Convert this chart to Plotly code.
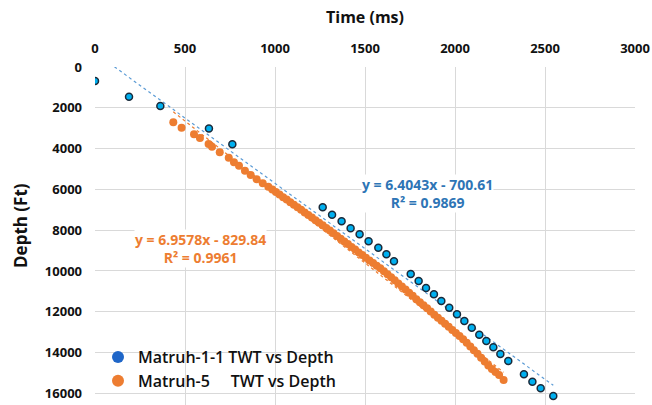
import plotly.graph_objects as go

# Matruh-1-1 (blue) TWT (ms) vs Depth (ft)
m1_time = [0, 189, 363, 633, 763,
           1265, 1317, 1370, 1420, 1470, 1520, 1574, 1619, 1661,
           1754, 1798, 1839, 1883, 1924, 1968, 2011, 2052, 2093, 2135,
           2174, 2213, 2252, 2296, 2383, 2430, 2476, 2546]
m1_depth = [686, 1456, 1912, 3020, 3790,
            6879, 7238, 7565, 7908, 8203, 8545, 8856, 9183, 9526,
            10147, 10490, 10833, 11144, 11471, 11797, 12124, 12451, 12778, 13121,
            13431, 13741, 14069, 14412, 15065, 15425, 15752, 16127]

# Matruh-5 (orange)
m5_time = [435, 481, 550, 583, 631, 650, 693, 743, 772, 800, 833, 865, 898, 932,
           963, 985, 1005, 1025, 1045, 1065, 1085, 1105, 1125, 1145, 1165, 1185,
           1205, 1225, 1245, 1265, 1285, 1305, 1325, 1345, 1365, 1385, 1405, 1425,
           1445, 1465, 1485, 1505, 1525, 1545, 1565, 1585, 1605, 1625, 1645, 1665,
           1685, 1705, 1725, 1745, 1765, 1785, 1805, 1825, 1845, 1865, 1885, 1905,
           1925, 1945, 1965, 1985, 2005, 2025, 2045, 2065, 2085, 2105, 2125, 2145,
           2165, 2185, 2205, 2225, 2245, 2270]
m5_depth = [2712, 2974, 3301, 3480, 3775, 3905, 4183, 4444, 4673, 4837, 5082, 5294, 5506, 5702,
            5866, 6000, 6130, 6250, 6380, 6500, 6630, 6750, 6880, 7000, 7130, 7250,
            7380, 7510, 7630, 7760, 7890, 8020, 8150, 8290, 8420, 8550, 8680, 8820,
            8950, 9090, 9220, 9350, 9480, 9610, 9740, 9870, 10010, 10160, 10310, 10460,
            10610, 10760, 10910, 11070, 11220, 11380, 11530, 11680, 11830, 11990, 12140, 12290,
            12440, 12590, 12740, 12890, 13040, 13190, 13350, 13520, 13700, 13880, 14060, 14250,
            14440, 14630, 14800, 14950, 15100, 15340]

# Trendline coefficients (slope, intercept) and R²
m1_fit = (6.4043, -700.61)
m5_fit = (6.9578, -829.84)
m1_r2 = "0.9869"
m5_r2 = "0.9961"

x_ticks = [0, 500, 1000, 1500, 2000, 2500, 3000]
y_ticks = [0, 2000, 4000, 6000, 8000, 10000, 12000, 14000, 16000]

BLUE_PT = "#00B0F0"
BLUE_LEG = "#1F66C8"
BLUE_TXT = "#2E75B6"
ORANGE = "#ED7D31"
FONT = "Open Sans"

W, H = 652, 405
ML, MR, MT, MB = 95, 17, 67, 0
PW, PH = W - ML - MR, H - MT - MB

def px(xp):
    return (xp - ML) / PW

def py(yp):
    return (H - MB - yp) / PH

fig = go.Figure()

def trend(times, fit):
    xs = [min(times), max(times)]
    return xs, [fit[0] * x + fit[1] for x in xs]

tx, ty = trend(m1_time, m1_fit)
fig.add_trace(go.Scatter(x=tx, y=ty, mode="lines", showlegend=False,
                         line=dict(color="#5B9BD5", width=1.2, dash="dot")))
tx, ty = trend(m5_time, m5_fit)
fig.add_trace(go.Scatter(x=tx, y=ty, mode="lines", showlegend=False,
                         line=dict(color=ORANGE, width=1.2, dash="dot")))

fig.add_trace(go.Scatter(x=m5_time, y=m5_depth, mode="markers", showlegend=False,
                         marker=dict(color=ORANGE, size=8, line=dict(width=0))))
fig.add_trace(go.Scatter(x=m1_time, y=m1_depth, mode="markers", showlegend=False,
                         marker=dict(color=BLUE_PT, size=7, line=dict(color="#1a2a3a", width=1.5))))

# legend-only entries
fig.add_trace(go.Scatter(x=[None], y=[None], mode="markers", name="Matruh-1-1 TWT vs Depth",
                         marker=dict(color=BLUE_LEG, size=10)))
fig.add_trace(go.Scatter(x=[None], y=[None], mode="markers", name="Matruh-5\u00a0\u00a0\u00a0\u00a0\u00a0TWT vs Depth",
                         marker=dict(color=ORANGE, size=10)))

def eq_text(fit, r2):
    sign = "-" if fit[1] < 0 else "+"
    return f"y = {fit[0]:.4f}x {sign} {abs(fit[1]):.2f}<br>R² = {r2}"

def ann(x_px, y_px, text, color, size=14):
    fig.add_annotation(x=px(x_px), y=py(y_px), xref="paper", yref="paper",
                       text=text, showarrow=False, xanchor="center", yanchor="middle",
                       align="center",
                       font=dict(family=FONT, size=size, color=color, weight="bold"),
                       bgcolor="white", borderpad=0)

ann(427, 193, eq_text(m1_fit, m1_r2), BLUE_TXT)
ann(200, 248, eq_text(m5_fit, m5_r2), ORANGE)

fig.add_annotation(x=px(365), y=py(17), xref="paper", yref="paper", text="Time (ms)",
                   showarrow=False, xanchor="center", yanchor="middle",
                   font=dict(family=FONT, size=16, color="#111", weight="bold"))
fig.add_annotation(x=px(20), y=py(226), xref="paper", yref="paper", text="Depth (Ft)",
                   showarrow=False, xanchor="center", yanchor="middle", textangle=-90,
                   font=dict(family=FONT, size=17, color="#111", weight="bold"))

fig.update_xaxes(range=[0, 3000], side="top", tickvals=x_ticks,
                 ticktext=[str(v) for v in x_ticks],
                 showgrid=True, gridcolor="#D9D9D9", gridwidth=1, zeroline=False,
                 showline=False, ticks="", ticklabelstandoff=10,
                 tickfont=dict(family=FONT, size=13, color="#111", weight="bold"))
fig.update_yaxes(range=[16570, 0], tickvals=y_ticks,
                 ticktext=[str(v) for v in y_ticks],
                 showgrid=True, gridcolor="#D9D9D9", gridwidth=1, zeroline=False,
                 showline=False, ticks="", ticklabelstandoff=12,
                 tickfont=dict(family=FONT, size=13, color="#111", weight="bold"))

fig.update_layout(
    width=W, height=H,
    margin=dict(l=ML, r=MR, t=MT, b=MB),
    paper_bgcolor="white", plot_bgcolor="white",
    legend=dict(x=px(98), y=py(340), xanchor="left", yanchor="top", bgcolor="rgba(255,255,255,0)",
                font=dict(family=FONT, size=16, color="#111", weight=600), itemsizing="constant",
                tracegroupgap=0, itemwidth=30),
)

fig.write_html("out.html")
